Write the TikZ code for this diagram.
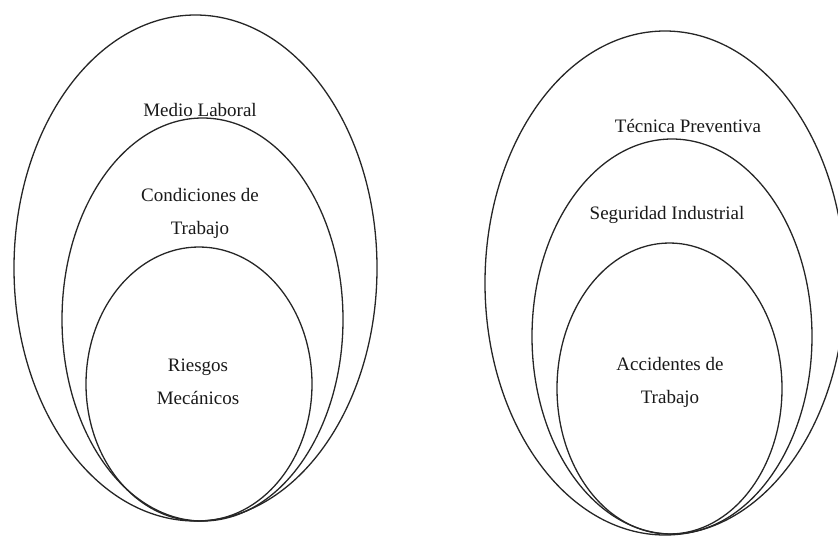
\documentclass[tikz,border=0pt]{standalone}
\usepackage{fontspec}
\setmainfont{Liberation Serif}
\usetikzlibrary{shapes.geometric}
\begin{document}
\begin{tikzpicture}[x=1pt,y=-1pt,
  ring/.style={draw=black!85,line width=1.3pt,ellipse,inner sep=0pt,outer sep=0pt},
  lbl/.style={font=\fontsize{19}{33}\selectfont,align=center,inner sep=0pt,text=black!90}]
  \useasboundingbox (0,0) rectangle (838,536);
  \clip (0,0) rectangle (838,536);
  % left group of nested sets
  \node[ring,minimum width=363pt,minimum height=506pt] (medio) at (195.5,268) {};
  \node[ring,minimum width=281pt,minimum height=403pt] (cond) at (202.5,319.5) {};
  \node[ring,minimum width=226pt,minimum height=274pt] (riesgos) at (199,384) {};
  \node[lbl] (tmedio) at (200,110) {Medio Laboral};
  \node[lbl] (tcond) at (200,213.5) {Condiciones de\\Trabajo};
  \node[lbl] (triesgos) at (198,382) {Riesgos\\Mecánicos};
  % right group of nested sets
  \node[ring,minimum width=360pt,minimum height=504pt] (tecnica) at (665,283) {};
  \node[ring,minimum width=280pt,minimum height=395pt] (seguridad) at (672,336.5) {};
  \node[ring,minimum width=225pt,minimum height=291pt] (accidentes) at (669.5,388.5) {};
  \node[lbl] (ttecnica) at (688,126) {Técnica Preventiva};
  \node[lbl] (tseguridad) at (667,215) {Seguridad Industrial};
  \node[lbl] (taccidentes) at (670,382) {Accidentes de\\Trabajo};
\end{tikzpicture}
\end{document}
